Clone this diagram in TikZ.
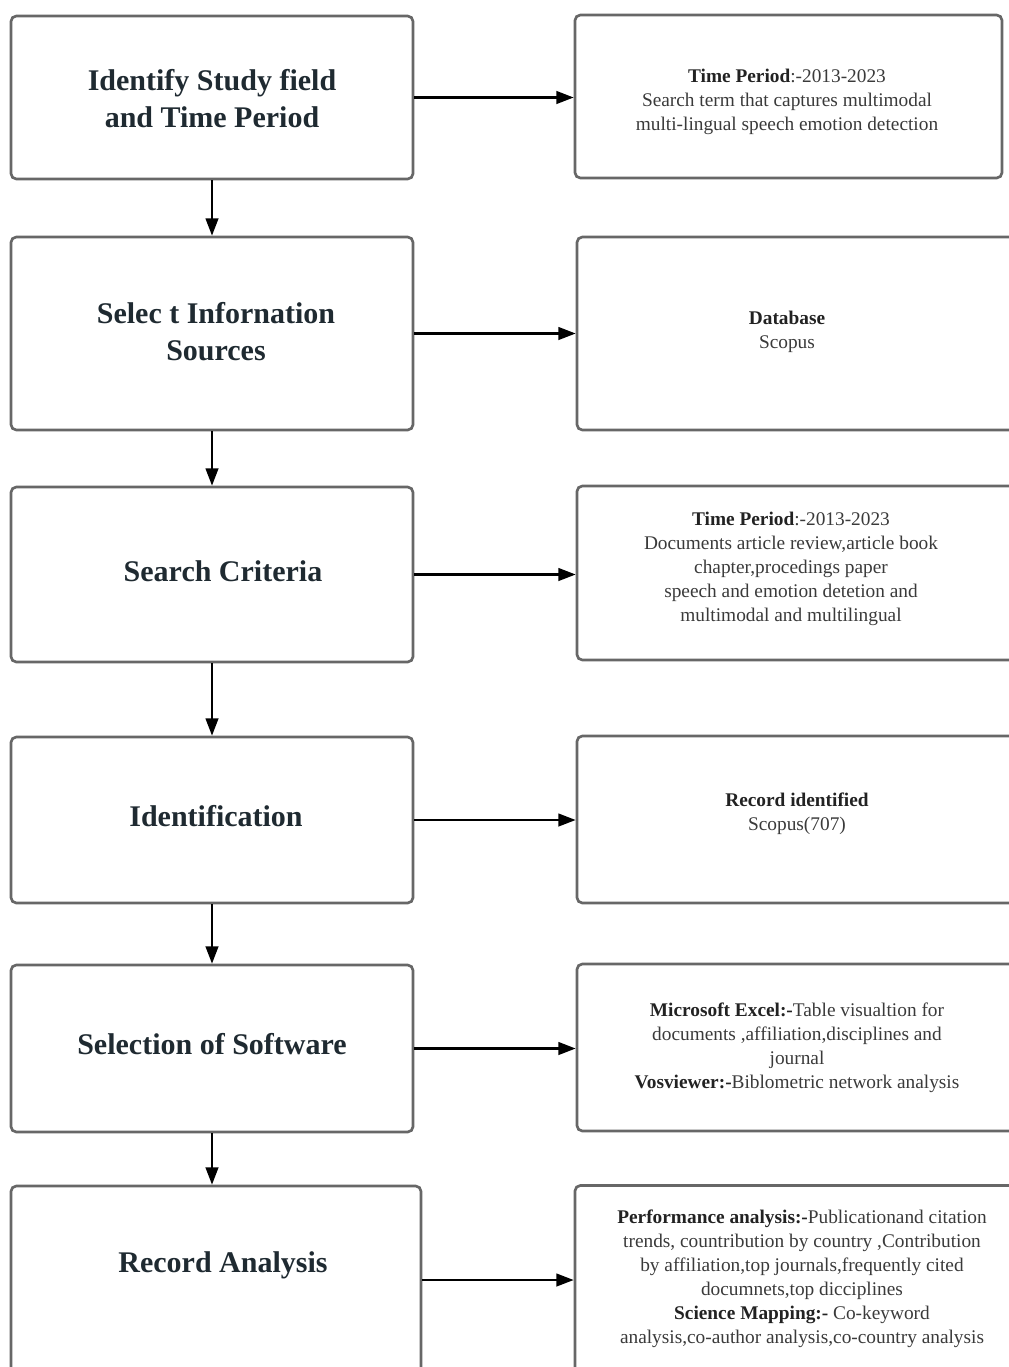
\documentclass[tikz,border=0pt]{standalone}
\usepackage{fontspec}
\setmainfont{Liberation Serif}
\usepackage{tikz}
\usetikzlibrary{arrows.meta,calc,positioning}
\definecolor{frame}{HTML}{676767}
\definecolor{ink}{HTML}{1F2A31}
\definecolor{body}{HTML}{3A3A3A}
\definecolor{key}{HTML}{222222}
\newcommand{\kw}[1]{\textbf{\color{key}#1}}
\tikzset{
  stagebox/.style={draw=frame,line width=2pt,rounded corners=4pt,inner sep=0pt},
  stage/.style={font=\fontsize{22.5}{27.75}\selectfont\bfseries,text=ink,align=center},
  note/.style={font=\fontsize{14.5}{18}\selectfont,text=body,align=center},
  flow/.style={-{Triangle[length=13pt,width=9.5pt]},draw=black,line width=1.7pt}
}
\begin{document}
\begin{tikzpicture}[x=.75pt,y=-.75pt]
  \useasboundingbox (0,0) rectangle (1009,1367);
  \clip (0,0) rectangle (1009,1367);
  % left column: stages
  \node[stagebox,minimum width=301.5pt,minimum height=122.25pt] (b1) at (212,97.5) {};
  \node[stagebox,minimum width=301.5pt,minimum height=144.75pt] (b2) at (212,333.5) {};
  \node[stagebox,minimum width=301.5pt,minimum height=131.25pt] (b3) at (212,574.5) {};
  \node[stagebox,minimum width=301.5pt,minimum height=124.5pt] (b4) at (212,820) {};
  \node[stagebox,minimum width=301.5pt,minimum height=125.25pt] (b5) at (212,1048.5) {};
  \node[stagebox,minimum width=307.5pt,minimum height=141pt] (b6) at (216,1280) {};
  \node[stage] (t1) at (212,99) {Identify Study field\\and Time Period};
  \node[stage] (t2) at (216,332) {Selec t Infornation\\Sources};
  \node[stage] (t3) at (223,571) {Search Criteria};
  \node[stage] (t4) at (216,816) {Identification};
  \node[stage] (t5) at (212,1044) {Selection of Software};
  \node[stage] (t6) at (223,1265) {Record Analysis};
  % right column: details
  \node[stagebox,minimum width=320.25pt,minimum height=122.25pt] (r1) at (788.5,96.5) {};
  \node[stagebox,minimum width=328.5pt,minimum height=144.75pt] (r2) at (796,333.5) {};
  \node[stagebox,minimum width=328.5pt,minimum height=130.5pt] (r3) at (796,573) {};
  \node[stagebox,minimum width=328.5pt,minimum height=125.25pt] (r4) at (796,819.5) {};
  \node[stagebox,minimum width=328.5pt,minimum height=125.25pt] (r5) at (796,1047.5) {};
  \node[stagebox,minimum width=330pt,minimum height=141pt] (r6) at (795,1279.5) {};
  \node[note] (n1) at (787,102) {\kw{Time Period}:-2013-2023\\Search term that captures multimodal\\multi-lingual speech emotion detection};
  \node[note] (n2) at (787,332) {\kw{Database}\\Scopus};
  \node[note] (n3) at (791,569) {\kw{Time Period}:-2013-2023\\Documents article review,article book\\chapter,procedings paper\\speech and emotion detetion and\\multimodal and multilingual};
  \node[note] (n4) at (797,814) {\kw{Record identified}\\Scopus(707)};
  \node[note] (n5) at (797,1048) {\kw{Microsoft Excel:-}Table visualtion for\\documents ,affiliation,disciplines and\\journal\\\kw{Vosviewer:-}Biblometric network analysis};
  \node[note] (n6) at (802,1279) {\kw{Performance analysis:-}Publicationand citation\\trends, countribution by country ,Contribution\\by affiliation,top journals,frequently cited\\documnets,top dicciplines\\\kw{Science Mapping:-} Co-keyword\\analysis,co-author analysis,co-country analysis};
  % connectors
  \foreach \i/\j in {b1/b2,b2/b3,b3/b4,b4/b5,b5/b6}
    \draw[flow] (\i.south) -- (\i.south |- \j.north);
  \foreach \i/\j in {b1/r1,b2/r2,b3/r3,b4/r4,b5/r5,b6/r6}
    \draw[flow] (\i.east) -- (\i.east -| \j.west);
\end{tikzpicture}
\end{document}
